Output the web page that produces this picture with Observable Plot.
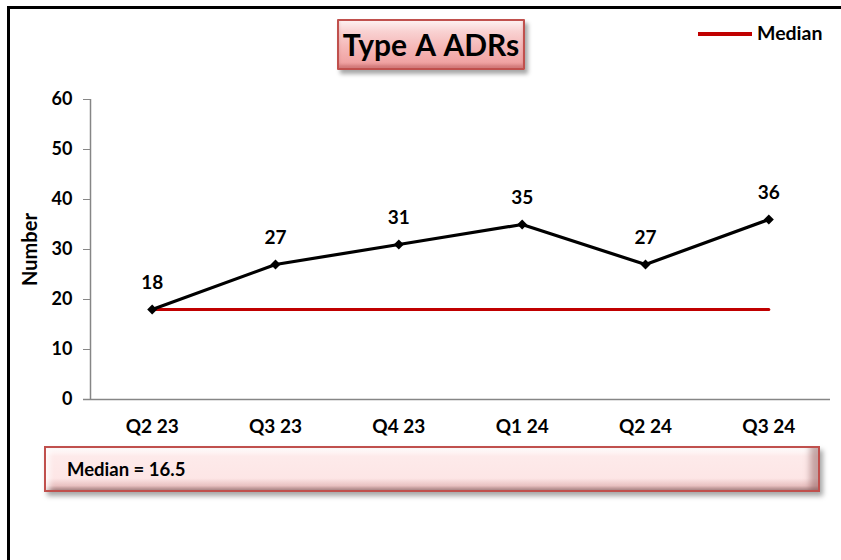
<!DOCTYPE html>
<html>
<head>
<meta charset="utf-8">
<script src="https://cdn.jsdelivr.net/npm/d3@7"></script>
<script src="https://cdn.jsdelivr.net/npm/@observablehq/plot@0.6"></script>
<style>
  html, body { margin: 0; padding: 0; background: #fff; overflow: hidden; }
  #wrap { position: relative; width: 841px; height: 560px; font-family: Lato, "Open Sans", sans-serif; }
  #frame { position: absolute; left: 7px; top: 6px; width: 900px; height: 700px; border-left: 3px solid #000; border-top: 3px solid #000; }
  #chart { position: absolute; left: 0; top: 0; }
  #title { position: absolute; left: 337px; top: 19px; width: 188px; height: 51px; box-sizing: border-box;
    border: 2px solid #c0504d; border-radius: 1px;
    background: linear-gradient(to bottom, #fdf0f0 0%, #f9d2d2 22%, #f5b8b8 55%, #f0a3a3 88%, #e48c8c 100%);
    box-shadow: 3px 4px 4px rgba(0,0,0,0.35), inset 0 -3px 3px rgba(150,60,60,0.25);
    font-weight: bold; font-size: 30px; color: #000; text-align: center; line-height: 47px; white-space: nowrap; word-spacing: 2px; }
  #legend { position: absolute; left: 698px; top: 20px; font-weight: bold; font-size: 19.5px; line-height: 26px; color: #000; white-space: nowrap; }
  #legend .sw { display: inline-block; width: 54px; height: 4px; background: #c00000; vertical-align: middle; margin-right: 5px; position: relative; top: -1px; }
  #note { position: absolute; left: 44px; top: 446px; width: 776px; height: 46px; box-sizing: border-box;
    border: 2px solid #c0504d;
    background: linear-gradient(to bottom, #ffffff 0%, #fdeaea 20%, #fde6e6 72%, #e8c0c0 90%, #a88585 100%);
    box-shadow: 3px 4px 5px rgba(0,0,0,0.35), inset -12px 0 6px -4px rgba(140,90,90,0.5), inset 8px 0 6px -5px rgba(255,255,255,0.9);
    font-weight: bold; font-size: 18.5px; color: #000; padding-left: 21px; line-height: 42px; white-space: nowrap; }
</style>
</head>
<body>
<div id="wrap">
  <div id="frame"></div>
  <div id="chart"></div>
  <div id="title">Type A ADRs</div>
  <div id="legend"><span class="sw"></span>Median</div>
  <div id="note">Median = 16.5</div>
</div>
<script>
const quarters = ["Q2 23", "Q3 23", "Q4 23", "Q1 24", "Q2 24", "Q3 24"];
const adrCounts = [18, 27, 31, 35, 27, 36];
const medianLine = [18, 18, 18, 18, 18, 18];
const yTicks = [0, 10, 20, 30, 40, 50, 60];

const rows = quarters.map((q, i) => ({i, q, value: adrCounts[i], median: medianLine[i]}));
const axisGray = "#868686";

const plot = Plot.plot({
  width: 841,
  height: 560,
  marginLeft: 90,
  marginRight: 11,
  marginTop: 99,
  marginBottom: 161,
  style: {fontFamily: "Lato, 'Open Sans', sans-serif", fontSize: "18px", fontWeight: "bold", background: "transparent", color: "#000"},
  x: {type: "linear", domain: [-0.5, quarters.length - 0.5]},
  y: {domain: [0, 60]},
  marks: [
    Plot.ruleX([-0.5], {y1: 0, y2: 60, stroke: axisGray, strokeWidth: 1.5}),
    Plot.ruleY([0], {stroke: axisGray, strokeWidth: 1.5, insetLeft: -7}),
    Plot.axisY({ticks: yTicks, tickSize: 7, tickPadding: 11, stroke: axisGray, label: null, fill: "#000", fontSize: 18}),
    Plot.axisX({ticks: d3.range(quarters.length), tickFormat: i => quarters[i], tickSize: 0, tickPadding: 20, label: null, fill: "#000", fontSize: 19}),
    Plot.text(["Number"], {frameAnchor: "left", textAnchor: "middle", rotate: -90, dx: -60, fontSize: 20, fontWeight: "bold", fill: "#000"}),
    Plot.line(rows, {x: "i", y: "median", stroke: "#c00000", strokeWidth: 3}),
    Plot.line(rows, {x: "i", y: "value", stroke: "#000", strokeWidth: 3.2}),
    Plot.dot(rows, {x: "i", y: "value", symbol: "diamond2", r: 4.5, fill: "#000", stroke: "none"}),
    Plot.text(rows, {x: "i", y: "value", text: d => String(d.value), dy: -27, fontSize: 19, fontWeight: "bold", fill: "#000"})
  ]
});
document.getElementById("chart").appendChild(plot);
</script>
</body>
</html>
